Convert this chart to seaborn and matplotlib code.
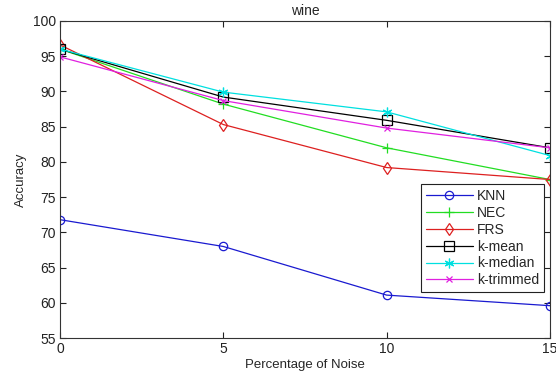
import matplotlib
matplotlib.use("Agg")
import matplotlib.pyplot as plt
import seaborn as sns
import pandas as pd

noise = [0, 5, 10, 15]
knn = [71.8, 68.0, 61.1, 59.6]
nec = [96.0, 88.2, 82.0, 77.5]
frs = [96.6, 85.3, 79.2, 77.5]
k_mean = [96.0, 89.2, 85.9, 82.0]
k_median = [96.0, 89.9, 87.1, 80.9]
k_trimmed = [94.9, 88.7, 84.8, 82.0]

series = ["KNN", "NEC", "FRS", "k-mean", "k-median", "k-trimmed"]
values = [knn, nec, frs, k_mean, k_median, k_trimmed]
colors = ["#1a1ad0", "#22dd22", "#dd2020", "#000000", "#00e0e0", "#e020e0"]
markers = ["o", "+", "d", "s", (6, 2, 0), "x"]
msizes = [6, 7, 6, 7, 7, 5]

sns.set_style("white")
plt.rcParams["font.family"] = ["Liberation Sans", "DejaVu Sans"]

fig = plt.figure(figsize=(5.56, 3.74), dpi=100)
ax = fig.add_axes([0.108, 0.096, 0.881, 0.848])

for name, vals, c, m, ms in zip(series, values, colors, markers, msizes):
    df = pd.DataFrame({"noise": noise, "acc": vals})
    sns.lineplot(data=df, x="noise", y="acc", ax=ax, color=c, marker=m,
                 markersize=ms, linewidth=0.9, label=name, legend=False)

for line, c in zip(ax.lines, colors):
    line.set_markerfacecolor("none")
    line.set_markeredgecolor(c)
    line.set_markeredgewidth(0.9)

ax.set_xlim(0, 15)
ax.set_ylim(55, 100)
ax.set_xticks([0, 5, 10, 15])
ax.set_yticks(range(55, 101, 5))
ax.tick_params(direction="in", length=4, width=0.8, labelsize=10, colors="#222222",
               top=True, right=True, bottom=True, left=True, pad=3)
for sp in ax.spines.values():
    sp.set_visible(True)
    sp.set_color("#333333")
    sp.set_linewidth(0.8)

ax.set_xlabel("Percentage of Noise", fontsize=9.5, labelpad=2)
ax.set_ylabel("Accuracy", fontsize=9.5, labelpad=4)
ax.set_title("wine", fontsize=10, pad=4)

leg = ax.legend(loc="lower right", bbox_to_anchor=(0.988, 0.145), fontsize=10,
                handlelength=3.4, frameon=True, fancybox=False, framealpha=1,
                edgecolor="#222222", borderpad=0.35, labelspacing=0.2,
                handletextpad=0.3, borderaxespad=0)
leg.get_frame().set_linewidth(0.8)

fig.savefig("out.png", dpi=100)
